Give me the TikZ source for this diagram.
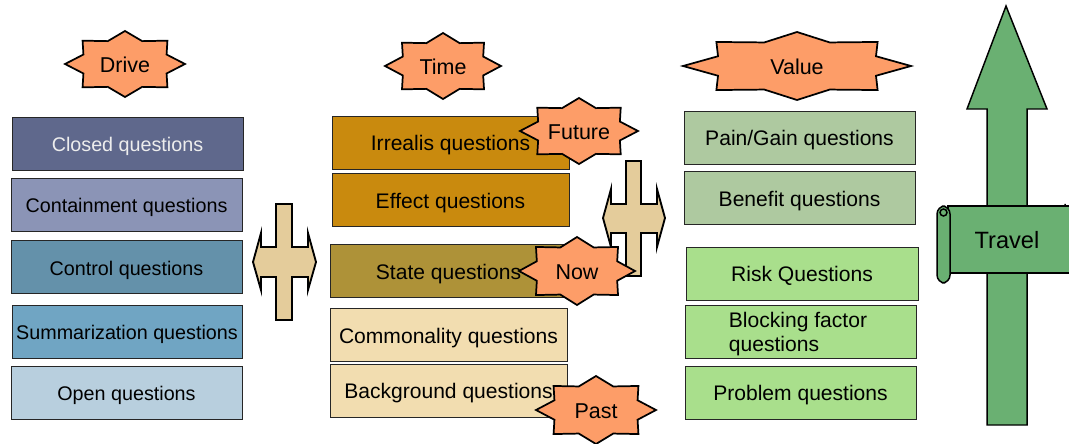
\documentclass[tikz,border=0pt]{standalone}
\usepackage{fontspec}
\setmainfont{Liberation Sans}
\definecolor{cClosed}{HTML}{5F688C}
\definecolor{cContain}{HTML}{8B94B6}
\definecolor{cControl}{HTML}{6491AA}
\definecolor{cSumm}{HTML}{70A5C3}
\definecolor{cOpen}{HTML}{B8CFDE}
\definecolor{cIrr}{HTML}{C98A0E}
\definecolor{cState}{HTML}{AE9238}
\definecolor{cCommon}{HTML}{F2DDB0}
\definecolor{cPain}{HTML}{AEC9A0}
\definecolor{cRisk}{HTML}{A9DF8C}
\definecolor{cStar}{HTML}{FD9D68}
\definecolor{cCross}{HTML}{E4CC9B}
\definecolor{cTravel}{HTML}{6AB072}
\tikzset{
  qbox/.style={draw=black!85, line width=0.75pt, inner sep=0pt,
    minimum height=53*0.75pt, font=\fontsize{14.8}{17.5}\selectfont,
    text height=1.22em, text depth=0pt},
  qboxb/.style={qbox, font=\fontsize{15.8}{18.5}\selectfont},
  starpath/.style={draw=black, fill=cStar, line width=1.3pt, line join=miter},
  startext/.style={font=\fontsize{16.1}{19}\selectfont, inner sep=0pt},
  crosspath/.style={draw=black, fill=cCross, line width=1.4pt, line join=miter},
  travelpath/.style={draw=black, fill=cTravel, line width=1.1pt, line join=miter}
}
% eight-pointed star: #1 cx, #2 cy, #3 half width, #4 half height
\newcommand{\eightstar}[4]{%
  \draw[starpath] plot[samples at={0,22.5,...,337.5}]
    ({#1+#3*(1-0.25*mod(round(\x/22.5),2))*cos(\x)},
     {#2+#4*(1-0.25*mod(round(\x/22.5),2))*sin(\x)}) -- cycle;}
\begin{document}
\begin{tikzpicture}[x=0.75pt,y=-0.75pt]
\useasboundingbox (0,0) rectangle (1069,443);

% ---------- Travel arrow and scroll ----------
\draw[travelpath] (1006,6) -- (1047,109) -- (1027,109) -- (1027,425)
  -- (987,425) -- (987,109) -- (967,109) -- cycle;
\draw[travelpath] (1065,210) -- (1065,204) arc (180:0:7) -- (1079,210);
\draw[travelpath] (948,206) rectangle (1090,273);
\draw[travelpath, rounded corners=6pt] (943.5,206) -- (937,206) -- (937,283) -- (950,283) -- (950,206) -- (943.5,206);
\draw[travelpath] (943.5,212.5) circle (3.5);
\node[font=\fontsize{17.7}{21}\selectfont, inner sep=0pt] (travel) at (1007,240) {Travel};

% ---------- Drive column ----------
\eightstar{125}{64}{60}{33}
\node[startext] (drive) at (125,65) {Drive};
\node[qbox, fill=cClosed, text=white!93!black, minimum width=231*0.75pt] (closed) at (127.5,143.5) {Closed questions};
\node[qbox, fill=cContain, minimum width=231*0.75pt] (containment) at (126.5,204.5) {Containment questions};
\node[qbox, fill=cControl, minimum width=231*0.75pt] (control) at (126.5,267) {Control questions};
\node[qbox, fill=cSumm, minimum width=230*0.75pt] (summ) at (127,331.5) {Summarization questions};
\node[qbox, fill=cOpen, minimum width=231*0.75pt] (open) at (126.5,392.5) {Open questions};

% left cross
\draw[crosspath] (276,204) -- (292,204) -- (292,247) -- (308,247) -- (308,233)
  -- (316,262) -- (308,290) -- (308,277) -- (292,277) -- (292,320) -- (276,320)
  -- (276,277) -- (261,277) -- (261,290) -- (253,262) -- (261,233) -- (261,247)
  -- (276,247) -- cycle;

% ---------- Time column ----------
\eightstar{443}{66}{58}{33}
\node[startext] (time) at (443,67) {Time};
\node[qboxb, fill=cIrr, minimum width=237*0.75pt] (irrealis) at (450.5,142.5) {Irrealis questions};
\node[qboxb, fill=cIrr, minimum width=237*0.75pt] (effect) at (450.5,200) {Effect questions};
\node[qboxb, fill=cState, minimum width=237*0.75pt] (state) at (448.5,271) {State questions};
\node[qboxb, fill=cCommon, minimum width=237*0.75pt] (common) at (448.5,335) {Commonality questions};
\node[qboxb, fill=cCommon, minimum width=237*0.75pt] (background) at (448.5,390.5) {Background questions};

% right cross
\draw[crosspath] (626,161) -- (641,161) -- (641,204) -- (657,204) -- (657,189)
  -- (665,218) -- (657,247) -- (657,233) -- (641,233) -- (641,276) -- (626,276)
  -- (626,233) -- (611,233) -- (611,247) -- (603,218) -- (611,189) -- (611,204)
  -- (626,204) -- cycle;

\eightstar{579}{131}{59}{33}
\node[startext] (future) at (579,132) {Future};
\eightstar{577}{271}{58}{34}
\node[startext] (now) at (577,272) {Now};
\eightstar{596}{410}{60}{34}
\node[startext] (past) at (596,411) {Past};

% ---------- Value column ----------
\eightstar{797}{66}{114}{34}
\node[startext] (value) at (797,67) {Value};
\node[qboxb, fill=cPain, minimum width=231*0.75pt] (pain) at (799.5,137.5) {Pain/Gain questions};
\node[qboxb, fill=cPain, minimum width=231*0.75pt] (benefit) at (799.5,198) {Benefit questions};
\node[qboxb, fill=cRisk, minimum width=232*0.75pt] (risk) at (802,273.5) {Risk Questions};
\node[qbox, fill=cRisk, minimum width=231*0.75pt] (blocking) at (800.5,331.5) {};
\node[inner sep=0pt, font=\fontsize{15.8}{18.5}\selectfont, align=left]
  (blockingtext) at (798,334) {Blocking factor\\questions};
\node[qboxb, fill=cRisk, minimum width=231*0.75pt] (problem) at (800.5,392.5) {Problem questions};
\end{tikzpicture}
\end{document}
